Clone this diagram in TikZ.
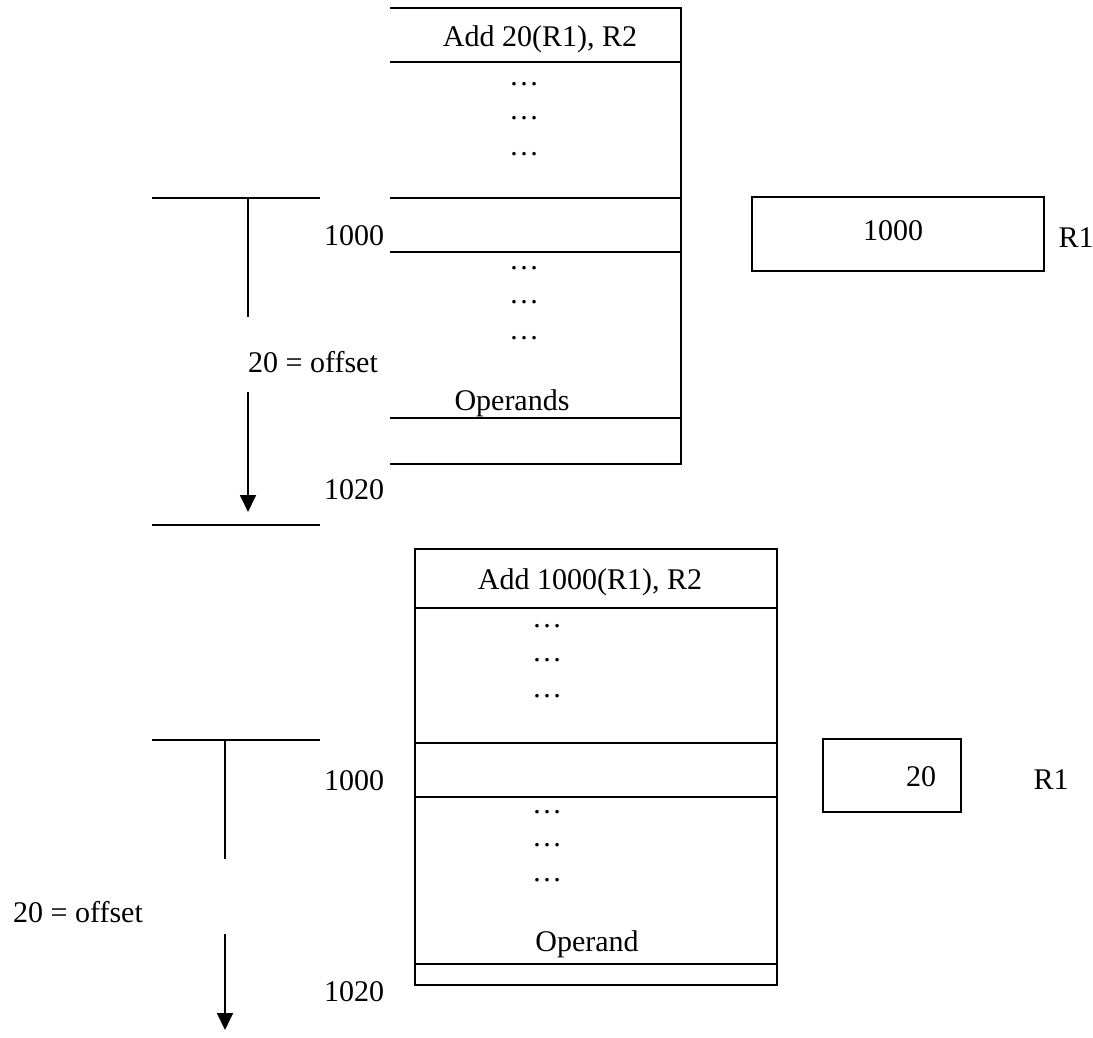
\documentclass[tikz,border=0pt]{standalone}
\usepackage{fontspec}
\setmainfont{Liberation Serif}
\usetikzlibrary{arrows.meta}
\begin{document}
\begin{tikzpicture}[x=1pt,y=-1pt,
  ln/.style={line width=1.8pt,black},
  txt/.style={inner sep=0pt,font=\fontsize{30}{35}\selectfont},
  arr/.style={ln,-{Triangle[width=16pt,length=17pt]}}]
\useasboundingbox (0,0) rectangle (1093,1038);
% ---------- top memory ----------
\draw[ln] (390,8) -- (681,8) -- (681,464) -- (390,464);
\foreach \y in {62,198,252,418} \draw[ln] (390,\y) -- (681,\y);
\node[txt] (ins1) at (540,39) {Add 20(R1), R2};
\node[txt] (d1a) at (524,84) {…};
\node[txt] (d1b) at (524,118) {…};
\node[txt] (d1c) at (524,154) {…};
\node[txt] (d1d) at (524,268) {…};
\node[txt] (d1e) at (524,302) {…};
\node[txt] (d1f) at (524,338) {…};
\node[txt] (op1) at (512,403) {Operands};
\node[txt] (a1000a) at (354,236) {1000};
\node[txt] (a1020a) at (354,490) {1020};
% offset indicator
\draw[ln] (152,198) -- (320,198);
\draw[ln] (152,525) -- (320,525);
\coordinate (t1) at (248,198);
\coordinate (t1e) at (248,317);
\coordinate (t1s) at (248,392);
\coordinate (t1h) at (248,512);
\draw[ln] (t1) -- (t1e);
\node[txt] (off1) at (313,362) {20 = offset};
\draw[arr] (t1s) -- (t1h);
% R1 register
\draw[ln] (752,197) rectangle (1044,271);
\node[txt] (r1v) at (893,231) {1000};
\node[txt] (r1n) at (1076,238) {R1};
% ---------- bottom memory ----------
\draw[ln] (415,549) rectangle (777,985);
\foreach \y in {608,743,797,964} \draw[ln] (415,\y) -- (777,\y);
\node[txt] (ins2) at (590,582) {Add 1000(R1), R2};
\node[txt] (d2a) at (547,626) {…};
\node[txt] (d2b) at (547,660) {…};
\node[txt] (d2c) at (547,696) {…};
\node[txt] (d2d) at (547,812) {…};
\node[txt] (d2e) at (547,845) {…};
\node[txt] (d2f) at (547,880) {…};
\node[txt] (op2) at (587,944) {Operand};
\node[txt] (a1000b) at (354,781) {1000};
\node[txt] (a1020b) at (354,992) {1020};
\draw[ln] (152,740) -- (320,740);
\coordinate (t2) at (225,740);
\coordinate (t2e) at (225,859);
\coordinate (t2s) at (225,934);
\coordinate (t2h) at (225,1030);
\draw[ln] (t2) -- (t2e);
\node[txt] (off2) at (78,912) {20 = offset};
\draw[arr] (t2s) -- (t2h);
\draw[ln] (823,739) rectangle (961,812);
\node[txt] (r2v) at (921,777) {20};
\node[txt] (r2n) at (1051,780) {R1};
\end{tikzpicture}
\end{document}
